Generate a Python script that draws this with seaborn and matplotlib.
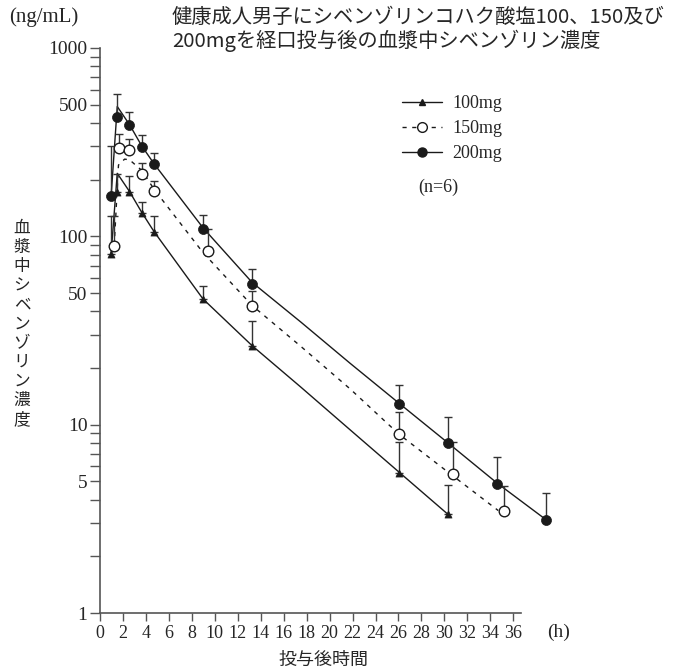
"""
Plasma cibenzoline concentration after oral dosing (100 / 150 / 200 mg)
"""

import numpy as np
import matplotlib
matplotlib.use('Agg')
import matplotlib.pyplot as plt
from matplotlib.lines import Line2D
import seaborn as sns

# sampling times (h)
times = [0.5, 1, 2, 3, 4, 8, 12, 24, 28, 32, 36]
times_150 = [0.75, 1.15, 2, 3, 4, 8.4, 12, 24, 28.4, 32.6]  # drawn slightly shifted in the original

# mean concentrations (ng/mL) and mean + SD
conc_100 = [81, 171, 173, 133, 106, 46.5, 26.3, 5.54, 3.34]
upper_100 = [128, 215, 210, 153, 129, 54.5, 35.7, 8.06, 4.78]
conc_150 = [89, 296, 286, 213, 174, 84, 42.7, 8.9, 5.5, 3.5]
upper_150 = [128, 350, 329, 244, 196, 110, 51, 11.7, 8.1, 4.7]
conc_200 = [164, 432, 389, 299, 241, 110, 56, 12.8, 8.0, 4.86, 3.13]
upper_200 = [302, 570, 458, 345, 278, 130, 67, 16.3, 11.0, 6.7, 4.35]

# fitted curves
fit_t_100 = [0.5, 1, 2, 3, 4, 8, 12, 16, 20, 24, 28]
fit_100 = [81, 216, 173, 134, 106, 46.5, 26.3, 15.8, 9.4, 5.6, 3.34]
fit_t_150 = [0.75, 1.1, 1.6, 2, 3, 4, 8, 12, 16, 20, 24, 28, 32.1]
fit_150 = [89, 239, 257, 255, 224, 178, 82, 43, 26, 15.5, 8.9, 5.6, 3.5]
fit_t_200 = [0.5, 1, 2, 3, 4, 8, 12, 16, 20, 24, 28, 32, 36]
fit_200 = [164, 489, 392, 302, 243, 111, 57, 35, 21.2, 13.0, 8.0, 4.9, 3.13]

dose_labels = ['100mg', '150mg', '200mg']
x_tick_labels = list(range(0, 37, 2))
y_tick_values = [1, 5, 10, 50, 100, 500, 1000]

sns.set_theme(style='ticks')
plt.rcParams['font.family'] = ['Liberation Serif', 'Noto Sans CJK JP']
jp = ['Noto Sans CJK JP', 'DejaVu Sans']

ink = '#1a1a1a'
bar = '#333333'

fig = plt.figure(figsize=(6.76, 6.70), dpi=100)
ax = fig.add_axes([100 / 676, 57 / 670, 458 / 676, 565 / 670])
ax.set_yscale('log')

# fitted curves
sns.lineplot(x=fit_t_100, y=fit_100, ax=ax, color=ink, lw=1.0, sort=False)
sns.lineplot(x=fit_t_150, y=fit_150, ax=ax, color=ink, lw=1.0, sort=False,
             linestyle=(0, (3, 4)))
sns.lineplot(x=fit_t_200, y=fit_200, ax=ax, color=ink, lw=1.0, sort=False)

# upper SD bars
for tt, cc, uu in [(times[:len(conc_100)], conc_100, upper_100),
                   (times_150, conc_150, upper_150),
                   (times, conc_200, upper_200)]:
    cc = np.array(cc)
    err = np.array(uu) - cc
    ax.errorbar(tt, cc, yerr=[np.zeros_like(cc), err], fmt='none',
                ecolor=bar, elinewidth=1.0, capsize=3.2, capthick=1.0, zorder=3)

# markers
sns.scatterplot(x=times[:len(conc_100)], y=conc_100, ax=ax, marker='^', s=26,
                color=ink, edgecolor=ink, linewidth=0.5, zorder=4)
sns.scatterplot(x=times_150, y=conc_150, ax=ax, marker='o', s=58,
                facecolor='white', edgecolor=ink, linewidth=1.0, zorder=4)
sns.scatterplot(x=times, y=conc_200, ax=ax, marker='o', s=52,
                color=ink, edgecolor=ink, linewidth=0.5, zorder=4)

# axes: the printed time scale is a bit narrower than the plotted points
ax.set_xlim(-0.408, 36.98)
ax.set_ylim(1, 1000)
tick_pos = [(11.48 * k - 5) / 12.25 for k in x_tick_labels]
ax.set_xticks(tick_pos)
ax.set_xticklabels([str(k) for k in x_tick_labels], fontsize=13)
ax.set_yticks(y_tick_values)
ax.set_yticklabels([str(v) for v in y_tick_values], fontsize=14)
ax.yaxis.set_minor_formatter(matplotlib.ticker.NullFormatter())
ax.tick_params(axis='both', which='both', direction='out', length=7,
               width=1.0, color='#555555', pad=2)
ax.tick_params(axis='x', length=6, pad=3)
for side in ['top', 'right']:
    ax.spines[side].set_visible(False)
for side in ['left', 'bottom']:
    ax.spines[side].set_color('#555555')
    ax.spines[side].set_linewidth(1.2)
ax.spines['bottom'].set_bounds(-0.408, 33.96)
ax.set_xlabel('')
ax.set_ylabel('')
ax.grid(False)

# legend
handles = [
    Line2D([], [], color=ink, lw=1.0, marker='^', markersize=5),
    Line2D([], [], color=ink, lw=1.0, linestyle=(0, (3, 4)), marker='o',
           markersize=7, markerfacecolor='white'),
    Line2D([], [], color=ink, lw=1.0, marker='o', markersize=6.5),
]
fig.legend(handles, dose_labels, loc='upper left',
           bbox_to_anchor=(402 / 676, (670 - 95) / 670), frameon=False,
           fontsize=13, handlelength=2.2, handletextpad=0.6, labelspacing=0.45,
           borderpad=0, borderaxespad=0)
fig.text(418 / 676, (670 - 187) / 670, '(n=6)', fontsize=13, va='center', ha='left')

# texts
fig.text(172 / 676, (670 - 7) / 670,
         '健康成人男子にシベンゾリンコハク酸塩100、150及び\n200mgを経口投与後の血漿中シベンゾリン濃度',
         family=jp, fontsize=14.6, va='top', ha='left', linespacing=1.1)
fig.text(44 / 676, (670 - 17) / 670, '(ng/mL)', fontsize=15, va='center', ha='center')
fig.text(22 / 676, (670 - 324) / 670, '\n'.join('血漿中シベンゾリン濃度'),
         family=jp, fontsize=12, va='center', ha='center', linespacing=1.17)
fig.text(547 / 676, (670 - 632) / 670, '(h)', fontsize=14, va='center', ha='left')
fig.text(323 / 676, (670 - 660) / 670, '投与後時間', family=jp, fontsize=13,
         va='center', ha='center')

plt.savefig('out.png', dpi=100)
